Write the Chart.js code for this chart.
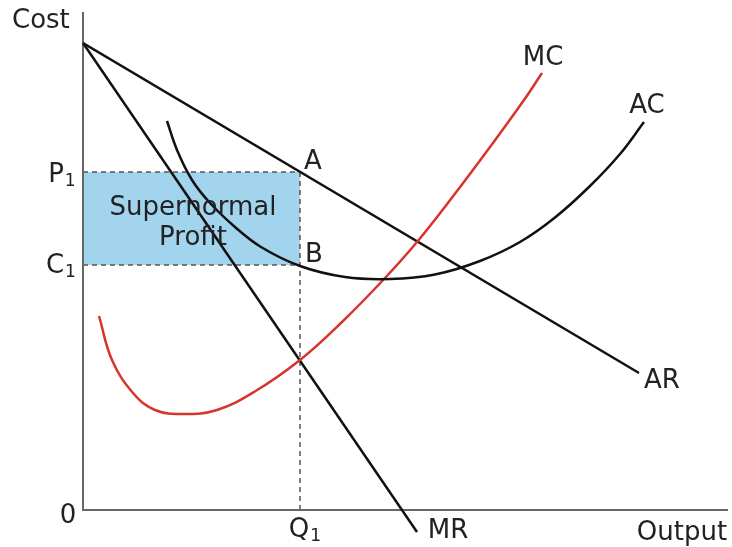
<!DOCTYPE html>
<html>
<head>
<meta charset="utf-8">
<script src="https://cdn.jsdelivr.net/npm/chart.js@4.4.1/dist/chart.umd.min.js"></script>
<style>
html,body{margin:0;padding:0;background:#fff;}
#wrap{width:732px;height:547px;position:relative;}
</style>
</head>
<body>
<div id="wrap"><canvas id="c" width="732" height="547"></canvas></div>
<script>
// Data (x = output units, y = cost units)
const arCurve = [{x:0,y:467},{x:556,y:137}];
const mrCurve = [{x:0,y:467},{x:334,y:-22}];
const mcCurve = [
  {x:16,y:194},{x:29,y:150},{x:50,y:117},{x:72,y:100},{x:101,y:96},{x:134,y:100},
  {x:171,y:118},{x:217,y:150},{x:259,y:188},{x:302,y:232},{x:334,y:268},
  {x:371,y:315},{x:407,y:363},{x:441,y:410},{x:459,y:437}
];
const acCurve = [
  {x:84,y:389},{x:94,y:360},{x:109,y:330},{x:127,y:307},{x:152,y:283},{x:178,y:263},
  {x:217,y:244},{x:262,y:233},{x:307,y:231},{x:352,y:235.5},{x:397,y:249},{x:437,y:268},
  {x:472,y:292.5},{x:507,y:324},{x:537,y:356},{x:561,y:388}
];
const P1 = 338, C1 = 245, Q1 = 217;
const X_MAX = 645, Y_MAX = 498;

// Labels: text, subscript, x, y (baseline) in data units, alignment
const labels = [
  {t:'Cost', x:-71, y:482, align:'left'},
  {t:'MC', x:460, y:445, align:'center'},
  {t:'AC', x:564, y:397, align:'center'},
  {t:'AR', x:579, y:122, align:'center'},
  {t:'MR', x:365, y:-28, align:'center'},
  {t:'Output', x:599, y:-30, align:'center'},
  {t:'0', x:-15, y:-13, align:'center'},
  {t:'Q', sub:'1', x:216, y:-27, align:'center'},
  {t:'P', sub:'1', x:-27, y:328, align:'center'},
  {t:'C', sub:'1', x:-28, y:237, align:'center'},
  {t:'A', x:230, y:341, align:'center'},
  {t:'B', x:231, y:248, align:'center'},
  {t:'Supernormal', x:110, y:295, align:'center'},
  {t:'Profit', x:110, y:265, align:'center'}
];

const FONT = '"DejaVu Sans", Verdana, sans-serif';
const labelPlugin = {
  id:'labels',
  afterDatasetsDraw(chart){
    const ctx = chart.ctx, xs = chart.scales.x, ys = chart.scales.y;
    ctx.save();
    ctx.fillStyle = '#222';
    ctx.textBaseline = 'alphabetic';
    labels.forEach(l => {
      const px = xs.getPixelForValue(l.x), py = ys.getPixelForValue(l.y);
      ctx.font = '26px ' + FONT;
      ctx.textAlign = l.align;
      ctx.fillText(l.t, px, py);
      if (l.sub) {
        const w = ctx.measureText(l.t).width;
        const right = l.align === 'center' ? px + w/2 : px + w;
        ctx.font = '17px ' + FONT;
        ctx.textAlign = 'left';
        ctx.fillText(l.sub, right + 1, py + 4);
      }
    });
    ctx.restore();
  }
};

const black = '#111';
const red = '#d8342c';
const grey = '#666';
const dashGrey = '#555';

new Chart(document.getElementById('c'), {
  type:'line',
  data:{
    datasets:[
      {data:acCurve, borderColor:black, borderWidth:2.5, tension:0.4, pointRadius:0, fill:false, order:1},
      {data:mcCurve, borderColor:red, borderWidth:2.5, tension:0.4, pointRadius:0, fill:false, order:1},
      {data:arCurve, borderColor:black, borderWidth:2.5, pointRadius:0, fill:false, order:1},
      {data:mrCurve, borderColor:black, borderWidth:2.5, pointRadius:0, fill:false, clip:false, order:1},
      // axes
      {data:[{x:0,y:Y_MAX},{x:0,y:0},{x:X_MAX,y:0}], borderColor:grey, borderWidth:2, pointRadius:0, fill:false, clip:false, tension:0, order:2},
      // dashed guides
      {data:[{x:0,y:C1},{x:Q1,y:C1}], borderColor:dashGrey, borderWidth:1.5, borderDash:[5,4], pointRadius:0, fill:false, order:3},
      {data:[{x:Q1,y:P1},{x:Q1,y:0}], borderColor:dashGrey, borderWidth:1.5, borderDash:[5,4], pointRadius:0, fill:false, order:3},
      // profit rectangle (top edge, filled down to C1)
      {data:[{x:0,y:P1},{x:Q1,y:P1}], borderColor:dashGrey, borderWidth:1.5, borderDash:[5,4], pointRadius:0,
       fill:{value:C1}, backgroundColor:'#a3d4ee', order:4}
    ]
  },
  options:{
    responsive:false,
    animation:false,
    layout:{padding:{left:83, right:4, top:12, bottom:37}},
    scales:{
      x:{type:'linear', min:0, max:X_MAX, display:false},
      y:{type:'linear', min:0, max:Y_MAX, display:false}
    },
    plugins:{legend:{display:false}, tooltip:{enabled:false}, filler:{drawTime:'beforeDatasetsDraw'}},
    events:[]
  },
  plugins:[labelPlugin]
});
</script>
</body>
</html>
